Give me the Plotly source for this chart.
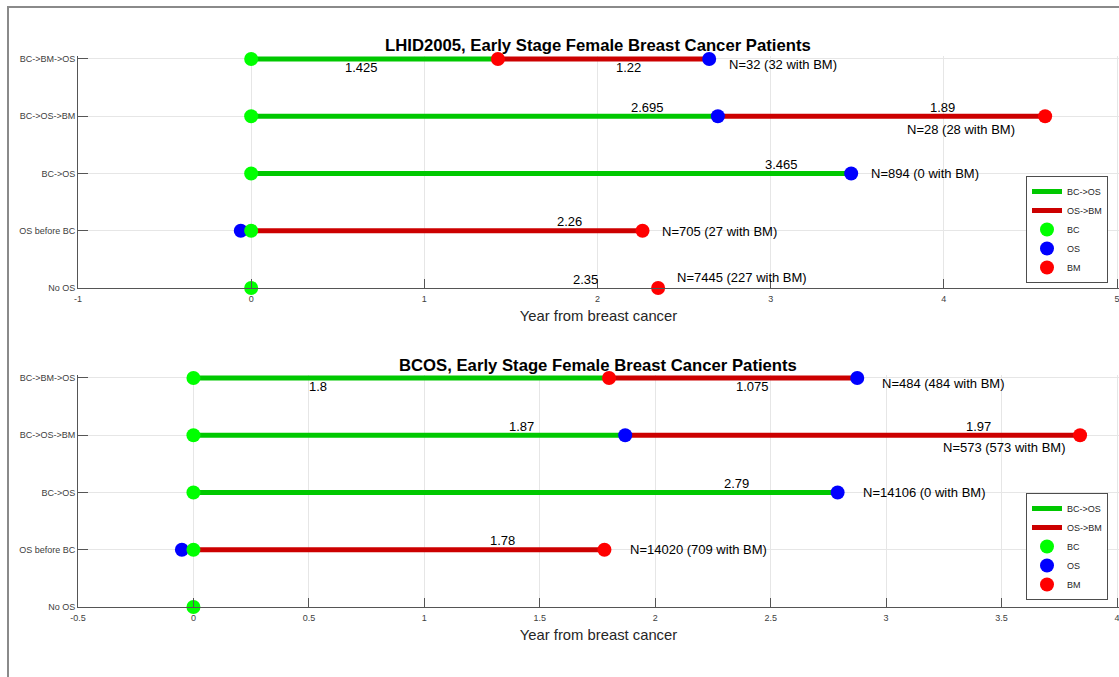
import plotly.graph_objects as go

# ---- data -------------------------------------------------------------
ROWS = ["BC->BM->OS", "BC->OS->BM", "BC->OS", "OS before BC", "No OS"]
ROW_Y = [5, 4, 3, 2, 1]

# LHID2005 cohort, years from breast cancer diagnosis
LHID_GREEN = [1.425, 2.695, 3.465, None, None]   # BC -> first event
LHID_RED = [1.22, 1.89, None, 2.26, None]        # first event -> second event (BC -> BM for "OS before BC")
LHID_OS_BEFORE = -0.06                           # OS ahead of BC
LHID_NO_OS_BM = 2.35                             # BM time, patients without OS
LHID_N = ["N=32 (32 with BM)", "N=28 (28 with BM)", "N=894 (0 with BM)",
          "N=705 (27 with BM)", "N=7445 (227 with BM)"]

# BCOS cohort
BCOS_GREEN = [1.8, 1.87, 2.79, None, None]
BCOS_RED = [1.075, 1.97, None, 1.78, None]
BCOS_OS_BEFORE = -0.05
BCOS_NO_OS_BM = None
BCOS_N = ["N=484 (484 with BM)", "N=573 (573 with BM)", "N=14106 (0 with BM)",
          "N=14020 (709 with BM)", None]

LHID_XRANGE = [-1, 5]
LHID_XTICKS = [-1, 0, 1, 2, 3, 4, 5]
LHID_XTICKTEXT = ["-1", "0", "1", "2", "3", "4", "5"]
BCOS_XRANGE = [-0.5, 4]
BCOS_XTICKS = [-0.5, 0, 0.5, 1, 1.5, 2, 2.5, 3, 3.5, 4]
BCOS_XTICKTEXT = ["-0.5", "0", "0.5", "1", "1.5", "2", "2.5", "3", "3.5", "4"]

TITLES = ["LHID2005, Early Stage Female Breast Cancer Patients",
          "BCOS, Early Stage Female Breast Cancer Patients"]

# ---- label placement (x in years, side of the line) --------------------
LHID_PLACE = dict(
    green=[(0.636, "below"), (2.29, "above"), (3.06, "above"), None, None],
    red=[(2.18, "below"), (3.99, "above"), None, (1.84, "above"), None],
    no_os=(1.93, "above"),
    n=[(None, "left", -6), (4.10, "center", -13), (None, "left", 0),
       (None, "left", -1), (None, "left", 11)],
)
BCOS_PLACE = dict(
    green=[(0.54, "below"), (1.42, "above"), (2.35, "above"), None, None],
    red=[(2.42, "below"), (3.40, "above"), None, (1.34, "above"), None],
    no_os=None,
    n=[(None, "left", -6), (3.51, "center", -12), (None, "left", 0),
       (None, "left", 0), None],
)

# ---- styling ----------------------------------------------------------
FONT = "Liberation Sans, Arial, Helvetica, sans-serif"
LINE_GREEN = "#00c800"
LINE_RED = "#cc0000"
DOT_GREEN = "#00ff00"
DOT_BLUE = "#0000ff"
DOT_RED = "#ff0000"
AXIS_COLOR = "#555555"
GRID_COLOR = "#e6e6e6"

W, H = 1119, 677
PLOT_L, PLOT_R = 78, 1117
PANELS = [(59, 288), (378, 607)]  # pixel rows of y=5 and y=1
Y_TOP = 5.06


def pane_domain(y5_px, y1_px):
    per = (y1_px - y5_px) / 4.0
    top_px = y5_px - (Y_TOP - 5) * per
    return [1 - y1_px / H, 1 - top_px / H]


def padded_range(rng):
    # stretch the axis to the figure edge so the last grid line stays visible
    per = (PLOT_R - PLOT_L) / (rng[1] - rng[0])
    return [rng[0], rng[1] + (W - PLOT_R) / per]


fig = go.Figure()
annotations = []


def add_cohort(idx, green, red, os_before, no_os_bm, n_text, place):
    xa = "x" if idx == 0 else "x2"
    ya = "y" if idx == 0 else "y2"
    legend = "legend" if idx == 0 else "legend2"
    gx, gy, rx, ry = [], [], [], []
    bc_x, bc_y, os_x, os_y, bm_x, bm_y = [], [], [], [], [], []
    ends = []
    for y, name, g, r in zip(ROW_Y, ROWS, green, red):
        bc_x.append(0)
        bc_y.append(y)
        if name == "BC->BM->OS":
            gx += [0, g, None]; gy += [y, y, None]
            rx += [g, g + r, None]; ry += [y, y, None]
            bm_x.append(g); bm_y.append(y)
            os_x.append(g + r); os_y.append(y)
            ends.append(g + r)
        elif name == "BC->OS->BM":
            gx += [0, g, None]; gy += [y, y, None]
            rx += [g, g + r, None]; ry += [y, y, None]
            os_x.append(g); os_y.append(y)
            bm_x.append(g + r); bm_y.append(y)
            ends.append(g + r)
        elif name == "BC->OS":
            gx += [0, g, None]; gy += [y, y, None]
            os_x.append(g); os_y.append(y)
            ends.append(g)
        elif name == "OS before BC":
            rx += [0, r, None]; ry += [y, y, None]
            os_x.append(os_before); os_y.append(y)
            bm_x.append(r); bm_y.append(y)
            ends.append(r)
        else:
            if no_os_bm is not None:
                bm_x.append(no_os_bm); bm_y.append(y)
            ends.append(no_os_bm)

    common = dict(xaxis=xa, yaxis=ya, legend=legend, cliponaxis=False, hoverinfo="skip")
    fig.add_trace(go.Scatter(x=gx, y=gy, mode="lines", name="BC->OS", legendrank=1,
                             line=dict(color=LINE_GREEN, width=5), **common))
    fig.add_trace(go.Scatter(x=rx, y=ry, mode="lines", name="OS->BM", legendrank=2,
                             line=dict(color=LINE_RED, width=5), **common))
    fig.add_trace(go.Scatter(x=os_x, y=os_y, mode="markers", name="OS", legendrank=4,
                             marker=dict(color=DOT_BLUE, size=14), **common))
    fig.add_trace(go.Scatter(x=bc_x, y=bc_y, mode="markers", name="BC", legendrank=3,
                             marker=dict(color=DOT_GREEN, size=14), **common))
    fig.add_trace(go.Scatter(x=bm_x, y=bm_y, mode="markers", name="BM", legendrank=5,
                             marker=dict(color=DOT_RED, size=14), **common))

    def value_label(x, y, value, side):
        annotations.append(dict(
            x=x, y=y, xref=xa, yref=ya, text=f"{value:g}", showarrow=False,
            xanchor="center", yanchor="middle", yshift=-9 if side == "below" else 9,
            font=dict(family=FONT, size=13, color="#000000")))

    for i, y in enumerate(ROW_Y):
        if green[i] is not None and place["green"][i]:
            value_label(place["green"][i][0], y, green[i], place["green"][i][1])
        if red[i] is not None and place["red"][i]:
            value_label(place["red"][i][0], y, red[i], place["red"][i][1])
        if ROWS[i] == "No OS" and no_os_bm is not None and place["no_os"]:
            value_label(place["no_os"][0], y, no_os_bm, place["no_os"][1])
        if n_text[i] and place["n"][i]:
            nx, anchor, shift = place["n"][i]
            if nx is None:
                nx = ends[i] + 0.1
            annotations.append(dict(
                x=nx, y=y, xref=xa, yref=ya, text=n_text[i], showarrow=False,
                xanchor=anchor, yanchor="middle", yshift=shift,
                font=dict(family=FONT, size=13, color="#000000")))


add_cohort(0, LHID_GREEN, LHID_RED, LHID_OS_BEFORE, LHID_NO_OS_BM, LHID_N, LHID_PLACE)
add_cohort(1, BCOS_GREEN, BCOS_RED, BCOS_OS_BEFORE, BCOS_NO_OS_BM, BCOS_N, BCOS_PLACE)

# panel titles
for (y5, _), title in zip(PANELS, TITLES):
    annotations.append(dict(
        x=(PLOT_L + PLOT_R) / 2 / W, y=1 - (y5 - 13) / H, xref="paper", yref="paper",
        text=title, showarrow=False, xanchor="center", yanchor="middle",
        font=dict(family=FONT, size=16.7, color="#000000", weight="bold")))

x_dom = [PLOT_L / W, 1.0]


def xaxis_cfg(rng, tv, tt, anchor):
    return dict(domain=x_dom, range=padded_range(rng), tickvals=tv, ticktext=tt, anchor=anchor,
                showline=True, linecolor=AXIS_COLOR, linewidth=1, mirror=False,
                ticks="inside", ticklen=9, tickcolor=AXIS_COLOR, tickwidth=1,
                showgrid=True, gridcolor=GRID_COLOR, gridwidth=1, zeroline=False,
                tickfont=dict(family=FONT, size=9, color="#404040"),
                ticklabelstandoff=2, ticklabeloverflow="allow",
                title=dict(text="Year from breast cancer", standoff=7,
                           font=dict(family=FONT, size=14.8, color="#262626")),
                automargin=False, fixedrange=True)


def yaxis_cfg(dom, anchor):
    return dict(domain=dom, range=[1, Y_TOP], tickvals=ROW_Y, ticktext=ROWS, anchor=anchor,
                showline=True, linecolor=AXIS_COLOR, linewidth=1,
                ticks="inside", ticklen=10, tickcolor=AXIS_COLOR, tickwidth=1,
                showgrid=True, gridcolor=GRID_COLOR, gridwidth=1, zeroline=False,
                tickfont=dict(family=FONT, size=9, color="#404040"),
                automargin=False, fixedrange=True)


def legend_cfg(bottom_px):
    return dict(x=1108 / W, xanchor="right", y=1 - bottom_px / H, yanchor="bottom",
                bgcolor="#ffffff", bordercolor="#4d4d4d", borderwidth=1,
                font=dict(family=FONT, size=9, color="#262626"),
                itemwidth=30, tracegroupgap=0)


fig.update_layout(
    width=W, height=H,
    margin=dict(l=0, r=0, t=0, b=0),
    paper_bgcolor="#ffffff", plot_bgcolor="#ffffff",
    font=dict(family=FONT),
    showlegend=True,
    xaxis=xaxis_cfg(LHID_XRANGE, LHID_XTICKS, LHID_XTICKTEXT, "y"),
    yaxis=yaxis_cfg(pane_domain(*PANELS[0]), "x"),
    xaxis2=xaxis_cfg(BCOS_XRANGE, BCOS_XTICKS, BCOS_XTICKTEXT, "y2"),
    yaxis2=yaxis_cfg(pane_domain(*PANELS[1]), "x2"),
    legend=legend_cfg(283),
    legend2=legend_cfg(600),
    annotations=annotations,
    shapes=[dict(type="rect", xref="paper", yref="paper",
                 x0=8 / W, x1=1.05, y0=-0.05, y1=1 - 7 / H,
                 line=dict(color="#8a8a8a", width=2), fillcolor="rgba(0,0,0,0)",
                 layer="above")],
)

fig.write_html("out.html")
